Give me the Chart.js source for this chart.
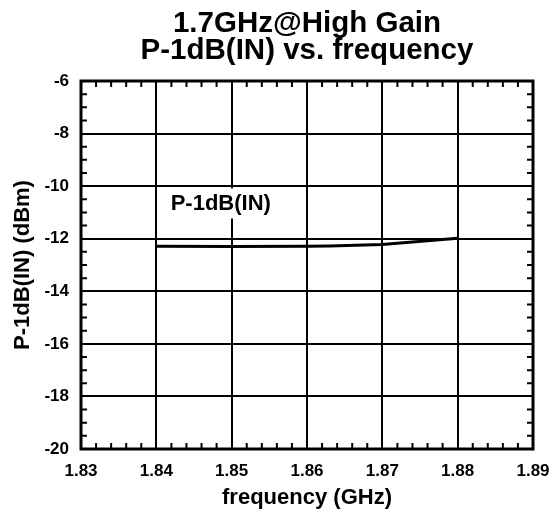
<!DOCTYPE html>
<html>
<head>
<meta charset="utf-8">
<script src="https://cdn.jsdelivr.net/npm/chart.js@4/dist/chart.umd.min.js"></script>
<style>
  html, body { margin: 0; padding: 0; background: #fff; }
  #wrap { width: 550px; height: 515px; }
</style>
</head>
<body>
<div id="wrap"><canvas id="chart" width="550" height="515"></canvas></div>
<script>
// P-1dB(IN) vs frequency
const freqGHz = [1.84, 1.85, 1.86, 1.863, 1.87, 1.88];
const p1dbIn = [-12.29, -12.3, -12.29, -12.28, -12.22, -11.98];
const xTicks = [1.83, 1.84, 1.85, 1.86, 1.87, 1.88, 1.89];
const yTicks = [-20, -18, -16, -14, -12, -10, -8, -6];
const titleLines = ['1.7GHz@High Gain', 'P-1dB(IN) vs. frequency'];
const labelText = 'P-1dB(IN)';
const labelAt = { x: 1.8419, y: -10.66 };

const FONT = '"Liberation Sans", Arial, sans-serif';

// title centred over the plot, inward minor ticks, frame, in-plot label
const decorations = {
  id: 'decorations',
  afterDraw(chart) {
    const { ctx, chartArea: a, scales: { x, y } } = chart;
    ctx.save();
    ctx.fillStyle = '#000';
    ctx.font = 'bold 29.5px ' + FONT;
    ctx.textAlign = 'center';
    ctx.textBaseline = 'alphabetic';
    const cx = (a.left + a.right) / 2;
    ctx.fillText(titleLines[0], cx, 32);
    ctx.fillText(titleLines[1], cx, 59);

    ctx.strokeStyle = '#000';
    ctx.lineWidth = 2;
    ctx.beginPath();
    for (let i = 0; i < xTicks.length - 1; i++) {
      for (let k = 1; k < 5; k++) {
        const px = x.getPixelForValue(xTicks[i] + k * 0.002);
        ctx.moveTo(px, a.bottom); ctx.lineTo(px, a.bottom - 6);
        ctx.moveTo(px, a.top); ctx.lineTo(px, a.top + 6);
      }
    }
    for (let i = 0; i < yTicks.length - 1; i++) {
      for (let k = 1; k < 4; k++) {
        const py = y.getPixelForValue(yTicks[i] + k * 0.5);
        ctx.moveTo(a.left, py); ctx.lineTo(a.left + 6, py);
        ctx.moveTo(a.right, py); ctx.lineTo(a.right - 6, py);
      }
    }
    ctx.stroke();
    ctx.lineWidth = 3;
    ctx.strokeRect(a.left, a.top, a.right - a.left, a.bottom - a.top);

    ctx.font = 'bold 22px ' + FONT;
    const lx = x.getPixelForValue(labelAt.x);
    const ly = y.getPixelForValue(labelAt.y);
    const w = ctx.measureText(labelText).width;
    ctx.fillStyle = '#fff';
    ctx.fillRect(lx - 5, ly - 15, w + 10, 30);
    ctx.fillStyle = '#000';
    ctx.textBaseline = 'middle';
    ctx.textAlign = 'left';
    ctx.fillText(labelText, lx, ly);
    ctx.restore();
  }
};

new Chart(document.getElementById('chart'), {
  type: 'scatter',
  data: {
    datasets: [{
      label: labelText,
      data: freqGHz.map((f, i) => ({ x: f, y: p1dbIn[i] })),
      showLine: true,
      borderColor: '#000',
      borderWidth: 3,
      pointRadius: 0,
      tension: 0
    }]
  },
  options: {
    responsive: false,
    animation: false,
    layout: { padding: { top: 81, right: 17, bottom: 4, left: 10 } },
    plugins: {
      legend: { display: false },
      tooltip: { enabled: false },
      title: { display: false }
    },
    scales: {
      x: {
        type: 'linear',
        min: 1.83, max: 1.89,
        afterBuildTicks: s => { s.ticks = xTicks.map(v => ({ value: v })); },
        afterFit: s => { s.height = 62; s.paddingRight = 0; s.paddingLeft = 0; },
        ticks: {
          color: '#000',
          font: { family: FONT, size: 17, weight: 'bold' },
          padding: 12,
          maxRotation: 0,
          callback: v => v.toFixed(2)
        },
        grid: { color: '#000', lineWidth: 2, drawTicks: false },
        border: { display: false },
        title: {
          display: true,
          text: 'frequency (GHz)',
          color: '#000',
          font: { family: FONT, size: 22, weight: 'bold' },
          padding: { top: 4, bottom: 0 }
        }
      },
      y: {
        type: 'linear',
        min: -20, max: -6,
        afterBuildTicks: s => { s.ticks = yTicks.map(v => ({ value: v })); },
        afterFit: s => { s.width = 71; s.paddingTop = 0; s.paddingBottom = 0; },
        ticks: {
          color: '#000',
          font: { family: FONT, size: 17, weight: 'bold' },
          padding: 12
        },
        grid: { color: '#000', lineWidth: 2, drawTicks: false },
        border: { display: false },
        title: {
          display: true,
          text: 'P-1dB(IN) (dBm)',
          color: '#000',
          font: { family: FONT, size: 22, weight: 'bold' },
          padding: { top: 0, bottom: 6 }
        }
      }
    }
  },
  plugins: [decorations]
});
</script>
</body>
</html>
